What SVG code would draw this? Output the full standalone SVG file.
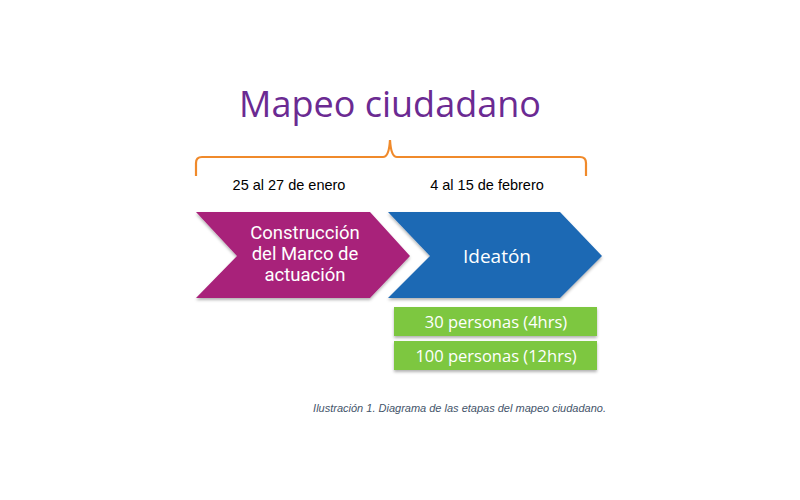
<svg xmlns="http://www.w3.org/2000/svg" width="800" height="500" viewBox="0 0 800 500">
<style>
.title{font-family:"Open Sans","Noto Sans",sans-serif;font-size:36px;fill:#6B2A92;text-anchor:middle}
.date{font-family:"Liberation Sans",Arial,sans-serif;font-size:14.5px;fill:#000;text-anchor:middle}
.wt{font-family:"Open Sans","Noto Sans",sans-serif;fill:#fff;text-anchor:middle}
.wr{font-family:Roboto,"Liberation Sans",sans-serif;fill:#fff;text-anchor:middle;font-size:18.5px}
.cap{font-family:"Liberation Sans",Arial,sans-serif;font-size:11px;font-style:italic;fill:#44546A;text-anchor:end}
.box{fill:#7DC741}
</style>
<defs>
<filter id="sh" x="-10%" y="-20%" width="120%" height="160%">
<feDropShadow dx="0" dy="2" stdDeviation="1.5" flood-color="#000" flood-opacity="0.3"/>
</filter>
</defs>
<rect width="800" height="500" fill="#fff"/>
<g id="title"><text class="title" x="390" y="117">Mapeo ciudadano</text></g>
<g id="brace"><path d="M196,176 L196,163 Q196,157 202,157 L383,157 Q389,157 390,140 Q391,157 397,157 L580,157 Q586,157 586,163 L586,176" fill="none" stroke="#F08A2B" stroke-width="2.2"/></g>
<g id="dates">
<text class="date" x="289" y="190">25 al 27 de enero</text>
<text class="date" x="487" y="190">4 al 15 de febrero</text>
</g>
<g id="construccion">
<polygon points="196,212 370,212 410,256 370,298 196,298 237,256" fill="#A8217A" filter="url(#sh)"/>
<text class="wr" x="305" y="239">Construcción</text>
<text class="wr" x="305" y="260">del Marco de</text>
<text class="wr" x="305" y="281">actuación</text>
</g>
<g id="ideaton">
<polygon points="388,212 560,212 602,256 560,298 388,298 430,256" fill="#1F69B4" filter="url(#sh)"/>
<text class="wt" font-size="19" x="497" y="263">Ideatón</text>
</g>
<g id="box1">
<rect class="box" x="394" y="307" width="203" height="29" filter="url(#sh)"/>
<text class="wt" font-size="16.5" x="496" y="328">30 personas (4hrs)</text>
</g>
<g id="box2">
<rect class="box" x="394" y="341" width="203" height="29" filter="url(#sh)"/>
<text class="wt" font-size="16.5" x="496" y="362">100 personas (12hrs)</text>
</g>
<g id="connectors"></g>
<text class="cap" x="606" y="412">Ilustración 1. Diagrama de las etapas del mapeo ciudadano.</text>
</svg>
